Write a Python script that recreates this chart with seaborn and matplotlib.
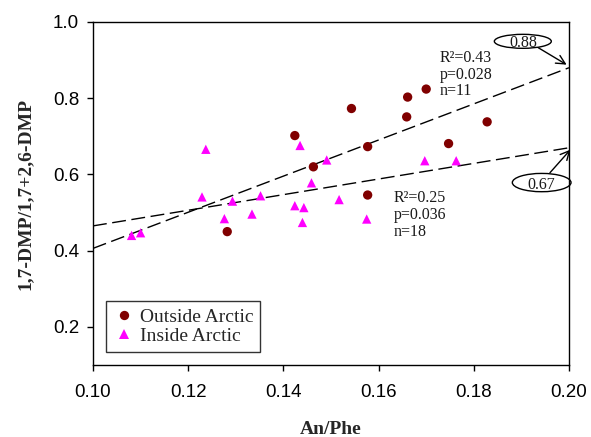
import matplotlib
matplotlib.use("Agg")
import matplotlib.pyplot as plt
from matplotlib.patches import Ellipse
import numpy as np
import pandas as pd
import seaborn as sns

# ---- data ----
outside_x = [0.1424, 0.1463, 0.1543, 0.1661, 0.1700, 0.1659, 0.1828, 0.1577, 0.1747, 0.1577, 0.1282]
outside_y = [0.702, 0.620, 0.773, 0.803, 0.824, 0.751, 0.738, 0.673, 0.681, 0.546, 0.450]

inside_x = [0.1237, 0.1435, 0.1491, 0.1459, 0.1229, 0.1293, 0.1352, 0.1424, 0.1443,
            0.1517, 0.1276, 0.1334, 0.1440, 0.1081, 0.1100, 0.1697, 0.1763, 0.1575]
inside_y = [0.666, 0.676, 0.638, 0.578, 0.541, 0.530, 0.544, 0.518, 0.513,
            0.534, 0.484, 0.496, 0.474, 0.440, 0.447, 0.636, 0.636, 0.483]

group_names = ["Outside Arctic", "Inside Arctic"]
# regression lines: value at x = 0.10 and x = 0.20
fit_x = [0.10, 0.20]
fit_outside = [0.406, 0.88]
fit_inside = [0.465, 0.67]
stats_outside = ["R²=0.43", "p=0.028", "n=11"]
stats_inside = ["R²=0.25", "p=0.036", "n=18"]
callouts = ["0.88", "0.67"]
x_ticks = [0.10, 0.12, 0.14, 0.16, 0.18, 0.20]
y_ticks = [0.2, 0.4, 0.6, 0.8, 1.0]

df = pd.DataFrame({
    "An/Phe": outside_x + inside_x,
    "ratio": outside_y + inside_y,
    "group": [group_names[0]] * len(outside_x) + [group_names[1]] * len(inside_x),
})

sns.set_theme(style="white")
plt.rcParams["font.family"] = ["Liberation Sans", "DejaVu Sans"]
serif = ["Liberation Serif", "DejaVu Serif"]

fig = plt.figure(figsize=(5.91, 4.37), dpi=100)
ax = fig.add_axes([93 / 591, 1 - 365 / 437, 476 / 591, 343 / 437])

sns.scatterplot(
    data=df, x="An/Phe", y="ratio", hue="group", style="group",
    palette={group_names[0]: "#800000", group_names[1]: "#FF00FF"},
    markers={group_names[0]: "o", group_names[1]: "^"},
    s=45, linewidth=0, ax=ax, zorder=3,
)

dash_style = (0, (10, 4))
sns.lineplot(x=fit_x, y=fit_outside, ax=ax, color="black", lw=1.0, legend=False, zorder=2)
ax.lines[-1].set_linestyle(dash_style)
sns.lineplot(x=fit_x, y=fit_inside, ax=ax, color="black", lw=1.0, legend=False, zorder=2)
ax.lines[-1].set_linestyle(dash_style)

ax.set_xlim(0.10, 0.20)
ax.set_ylim(0.10, 1.00)
ax.set_xticks(x_ticks)
ax.set_xticklabels([f"{v:.2f}" for v in x_ticks])
ax.set_yticks(y_ticks)
ax.set_yticklabels([f"{v:.1f}" for v in y_ticks])
ax.tick_params(axis="both", direction="out", length=4, width=1, colors="black",
               labelsize=13.5, left=True, bottom=True)
ax.tick_params(axis="x", pad=10)
ax.tick_params(axis="y", pad=6)
for sp in ax.spines.values():
    sp.set_color("black")
    sp.set_linewidth(1.0)

ax.set_xlabel("An/Phe", fontsize=14, fontweight="bold", family=serif, labelpad=14)
ax.set_ylabel("1,7-DMP/1,7+2,6-DMP", fontsize=14, fontweight="bold", family=serif, labelpad=14)

# stats text
for txt, yy in zip(stats_outside, [0.895, 0.850, 0.808]):
    ax.text(0.1729, yy, txt, family=serif, fontsize=11.5, va="baseline", ha="left", color="#1a1a1a")
for txt, yy in zip(stats_inside, [0.528, 0.483, 0.438]):
    ax.text(0.1632, yy, txt, family=serif, fontsize=11.5, va="baseline", ha="left", color="#1a1a1a")

# callouts
ell1 = Ellipse((0.1903, 0.9493), 0.01197, 0.0367, fill=False, ec="black", lw=1.0, clip_on=False)
ell2 = Ellipse((0.19426, 0.5787), 0.01233, 0.048, fill=False, ec="black", lw=1.0, clip_on=False)
ax.add_patch(ell1)
ax.add_patch(ell2)
ax.text(0.1903, 0.9493, callouts[0], family=serif, fontsize=11.5, ha="center",
        va="center_baseline", color="#1a1a1a")
ax.text(0.19426, 0.5787, callouts[1], family=serif, fontsize=11.5, ha="center",
        va="center_baseline", color="#1a1a1a")
ax.annotate("", xy=(0.1995, 0.888), xytext=(0.19355, 0.9325),
            arrowprops=dict(arrowstyle="->", color="black", lw=1.0, mutation_scale=16,
                            shrinkA=0, shrinkB=0), annotation_clip=False)
ax.annotate("", xy=(0.2003, 0.665), xytext=(0.1960, 0.6045),
            arrowprops=dict(arrowstyle="->", color="black", lw=1.0, mutation_scale=16,
                            shrinkA=0, shrinkB=0), annotation_clip=False)

# legend
handles, labels = ax.get_legend_handles_labels()
leg = ax.legend(handles, labels, loc="lower left", bbox_to_anchor=(0.027, 0.038),
                borderaxespad=0, frameon=True, fancybox=False, edgecolor="black",
                prop={"family": serif, "size": 14}, labelspacing=0.1, borderpad=0.35,
                handletextpad=0.2, handlelength=1.2, markerscale=1.0)
leg.get_frame().set_linewidth(1.0)

fig.savefig("out.png", dpi=100)
